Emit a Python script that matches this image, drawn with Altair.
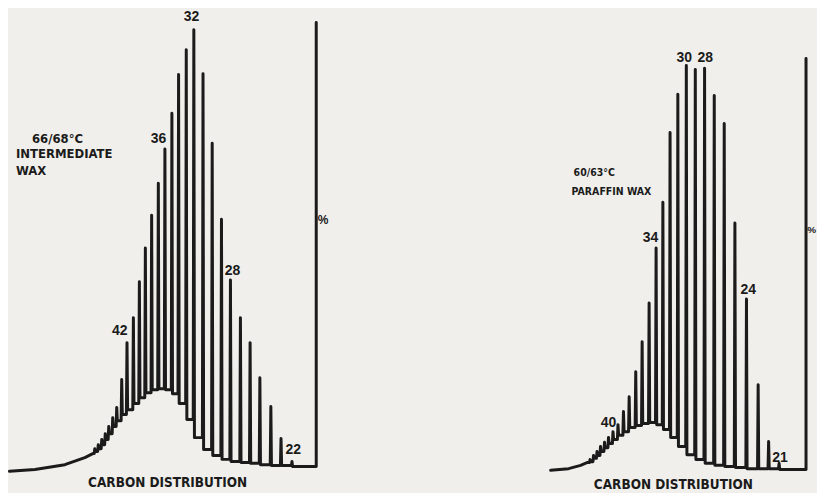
import altair as alt
import pandas as pd

# ---------------- Left chromatogram: 66/68°C intermediate wax ----------------
L_carbon = [50, 49, 48, 47, 46, 45, 44, 43, 42, 41, 40, 39, 38, 37, 36, 35, 34, 33,
            32, 31, 30, 29, 28, 27, 26, 25, 24, 23, 22]
L_rt = [8.70, 9.05, 9.40, 9.75, 10.10, 10.50, 10.90, 11.40, 11.93, 12.57, 13.17, 13.77,
        14.40, 15.07, 15.73, 16.43, 17.10, 17.87, 18.63, 19.55, 20.47, 21.40, 22.30,
        23.30, 24.27, 25.25, 26.35, 27.37, 28.47]
L_peak = [4.0, 4.9, 6.1, 7.4, 9.0, 11.0, 13.3, 19.6, 27.9, 33.5, 41.6, 49.2, 56.6, 63.8,
          71.5, 79.6, 88.3, 93.9, 98.4, 88.5, 72.8, 55.7, 42.0, 33.5, 27.9, 20.0, 13.5,
          6.3, 1.1]
L_valley = [3.4, 4.0, 4.9, 6.1, 7.4, 9.0, 10.3, 11.7, 12.8, 14.2, 15.5, 16.6, 17.3, 17.5,
            17.3, 16.4, 14.2, 10.6, 6.5, 3.8, 2.5, 1.6, 1.1, 0.9, 0.7, 0.4, 0.2, 0.2, 0.0]
L_start_rt = [0.15, 2.7, 5.7, 7.7, 8.5]
L_start_y = [-1.1, -0.7, 0.4, 2.0, 2.9]
L_end_rt = 30.9          # full-scale (100 %) marker position
L_lab_text = ["32", "36", "42", "28", "22"]
L_lab_rt = [18.4, 15.1, 11.2, 22.5, 28.6]
L_lab_y = [101.3, 73.7, 30.6, 44.0, 3.8]
L_title = ["66/68°C", "INTERMEDIATE", "WAX"]
L_title_rt = [2.4, 0.8, 0.8]
L_title_y = [73.7, 70.4, 66.6]

# ---------------- Right chromatogram: 60/63°C paraffin wax ----------------
R_carbon = [47, 46, 45, 44, 43, 42, 41, 40, 39, 38, 37, 36, 35, 34, 33, 32, 31, 30, 29,
            28, 27, 26, 25, 24, 23, 22, 21]
R_rt = [5.15, 5.50, 5.85, 6.20, 6.60, 7.00, 7.45, 7.95, 8.50, 9.07, 9.73, 10.37, 11.07,
        11.77, 12.45, 13.17, 13.95, 14.80, 15.70, 16.63, 17.60, 18.60, 19.67, 20.83,
        22.00, 23.05, 24.10]
R_peak = [2.4, 3.4, 4.4, 5.6, 6.6, 7.8, 9.2, 10.9, 14.1, 17.7, 23.8, 31.1, 40.5, 53.9,
          65.0, 82.0, 91.3, 98.3, 97.3, 97.6, 91.0, 84.2, 60.0, 41.5, 20.6, 6.8, 1.5]
R_valley = [1.9, 2.7, 3.4, 4.4, 5.3, 6.3, 7.3, 8.3, 9.2, 10.2, 10.7, 11.2, 11.4, 10.9,
            9.7, 7.8, 5.6, 3.6, 2.4, 1.5, 1.0, 0.7, 0.5, 0.2, 0.2, 0.2, 0.0]
R_start_rt = [1.2, 3.0, 4.2, 4.9]
R_start_y = [-0.2, 0.2, 1.0, 1.7]
R_end_rt = 26.8
R_lab_text = ["30", "28", "34", "24", "40", "21"]
R_lab_rt = [14.6, 16.7, 11.2, 21.0, 7.0, 24.2]
R_lab_y = [100.2, 100.2, 56.3, 43.7, 11.4, 2.9]
R_title = ["60/63°C", "PARAFFIN WAX"]
R_title_rt = [3.5, 3.3]
R_title_y = [72.1, 67.4]

INK = "#1b1b1b"
BG = "#f1efeb"
NUM_FONT = "Liberation Sans"
TXT_FONT = "DejaVu Sans Condensed, Liberation Sans"
HALF = 0.06


def trace(start_rt, start_y, rt, peak, valley, end_rt):
    xs, ys = list(start_rt), list(start_y)
    prev = start_y[-1]
    for t, p, v in zip(rt, peak, valley):
        xs += [t - HALF, t, t + HALF]
        ys += [prev, p, v]
        prev = v
    xs += [end_rt, end_rt]
    ys += [0.0, 100.0]
    return pd.DataFrame({"rt": xs, "signal": ys, "i": range(len(xs))})


def panel(df, xdom, ydom, width, labels, titles, title_size, pct, pct_size, caption):
    x = alt.X("rt:Q", scale=alt.Scale(domain=xdom, nice=False, zero=False), axis=None)
    y = alt.Y("signal:Q", scale=alt.Scale(domain=ydom, nice=False, zero=False), axis=None)
    line = alt.Chart(df).mark_line(
        color=INK, strokeWidth=3.0, strokeJoin="round", strokeCap="round", clip=True
    ).encode(x=x, y=y, order="i:Q")
    nums = alt.Chart(labels).mark_text(
        font=NUM_FONT, fontSize=14, fontWeight="bold", color=INK
    ).encode(x=x, y=y, text="t:N")
    tit = alt.Chart(titles).mark_text(
        font=TXT_FONT, fontSize=title_size, fontWeight="bold", color=INK, align="left"
    ).encode(x=x, y=y, text="t:N")
    pc = alt.Chart(pct).mark_text(
        font=NUM_FONT, fontSize=pct_size, fontWeight="bold", color=INK, align="left"
    ).encode(x=x, y=y, text="t:N")
    cap = alt.Chart(caption).mark_text(
        font=TXT_FONT, fontSize=13.5, fontWeight="bold", color=INK
    ).encode(x=x, y=y, text="t:N")
    return alt.layer(line, nums, tit, pc, cap).properties(width=width, height=485)


L_df = trace(L_start_rt, L_start_y, L_rt, L_peak, L_valley, L_end_rt)
R_df = trace(R_start_rt, R_start_y, R_rt, R_peak, R_valley, R_end_rt)

left = panel(
    L_df, [0, 33], [-5.84, 103.15], 330,
    pd.DataFrame({"t": L_lab_text, "rt": L_lab_rt, "signal": L_lab_y}),
    pd.DataFrame({"t": L_title, "rt": L_title_rt, "signal": L_title_y}), 13,
    pd.DataFrame({"t": ["%"], "rt": [31.05], "signal": [55.5]}), 12,
    pd.DataFrame({"t": ["CARBON DISTRIBUTION"], "rt": [16.0], "signal": [-3.8]}),
)
right = panel(
    R_df, [0, 27.7], [-5.58, 112.14], 277,
    pd.DataFrame({"t": R_lab_text, "rt": R_lab_rt, "signal": R_lab_y}),
    pd.DataFrame({"t": R_title, "rt": R_title_rt, "signal": R_title_y}), 10.5,
    pd.DataFrame({"t": ["%"], "rt": [26.93], "signal": [58.3]}), 10,
    pd.DataFrame({"t": ["CARBON DISTRIBUTION"], "rt": [13.5], "signal": [-3.9]}),
)

chart = alt.hconcat(left, right, spacing=202, bounds="flush").properties(
    padding=0, background=BG
).configure_view(stroke=None)

chart.save("out.html", embed_options={"renderer": "svg", "actions": False})
